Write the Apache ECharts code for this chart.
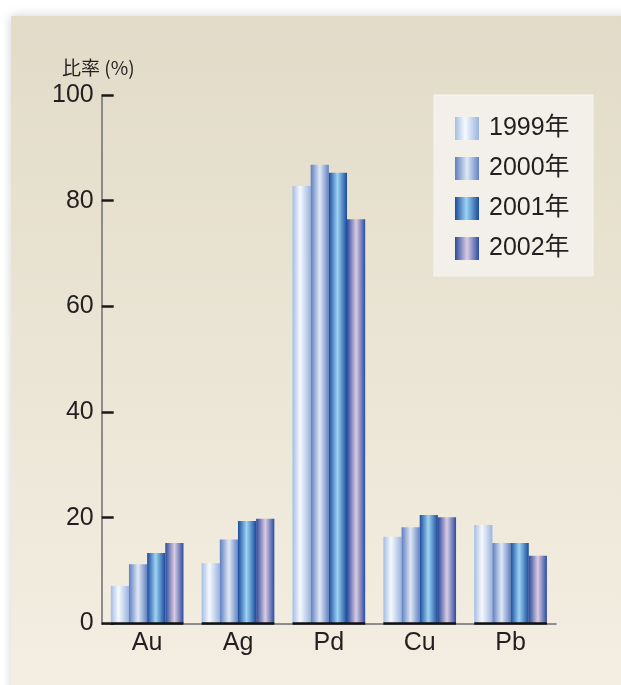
<!DOCTYPE html>
<html>
<head>
<meta charset="utf-8">
<style>
  html, body { margin: 0; padding: 0; background: #ffffff; }
  #chart { width: 621px; height: 685px; }
</style>
<script src="https://cdn.jsdelivr.net/npm/echarts@6/dist/echarts.min.js"></script>
</head>
<body>
<div id="chart"></div>
<script>
// Metals and yearly ratios (%)
const categories = ['Au', 'Ag', 'Pd', 'Cu', 'Pb'];
const years = ['1999年', '2000年', '2001年', '2002年'];
const values1999 = [7.1, 11.4, 82.8, 16.4, 18.6];
const values2000 = [11.2, 15.9, 86.8, 18.2, 15.2];
const values2001 = [13.3, 19.4, 85.3, 20.5, 15.2];
const values2002 = [15.2, 19.8, 76.5, 20.1, 12.8];
const yTicks = [0, 20, 40, 60, 80, 100];

const FONT = "'Liberation Sans', Arial, 'Noto Sans CJK JP', sans-serif";

// Horizontal "metallic" gradients for each year
function sheen(edgeL, mid, edgeR, midPos) {
  return {
    type: 'linear', x: 0, y: 0, x2: 1, y2: 0,
    colorStops: [
      { offset: 0, color: edgeL },
      { offset: midPos, color: mid },
      { offset: 1, color: edgeR }
    ]
  };
}
const yearColors = [
  sheen('#a3bde4', '#f7f9fd', '#98b4df', 0.42),
  sheen('#5f7ec1', '#dfe8f4', '#6382c4', 0.5),
  sheen('#1b4b9c', '#9dd3f3', '#184a9b', 0.47),
  sheen('#2b4a9b', '#dccbe2', '#2a4ca2', 0.5)
];
const seriesValues = [values1999, values2000, values2001, values2002];
const CAT_GAP = 0.2;

const barSeries = years.map((name, i) => ({
  name: name,
  type: 'bar',
  data: seriesValues[i],
  barGap: '0%',
  barCategoryGap: (CAT_GAP * 100) + '%',
  itemStyle: { color: yearColors[i] },
  z: 2
}));

// Dark base line under each bar group
const baseSeries = {
  type: 'custom',
  silent: true,
  z: 5,
  data: categories.map((c, i) => [i, 0]),
  renderItem: function (params, api) {
    const p = api.coord([api.value(0), 0]);
    const band = api.size([1, 0])[0];
    const half = band * (1 - CAT_GAP) / 2;
    return {
      type: 'line',
      shape: { x1: p[0] - half, y1: p[1], x2: p[0] + half, y2: p[1] },
      style: { stroke: '#111111', lineWidth: 2.5 }
    };
  }
};

const chart = echarts.init(document.getElementById('chart'), null, { renderer: 'canvas' });
chart.setOption({
  backgroundColor: '#ffffff',
  animation: false,
  textStyle: { fontFamily: FONT },
  graphic: [
    {
      type: 'rect',
      z: -10,
      shape: { x: 11, y: 16, width: 640, height: 700 },
      style: {
        fill: {
          type: 'linear', x: 0, y: 0, x2: 0, y2: 1,
          colorStops: [
            { offset: 0, color: '#e2dbc8' },
            { offset: 1, color: '#f4efe3' }
          ]
        },
        shadowBlur: 10,
        shadowColor: 'rgba(0,0,0,0.18)'
      }
    },
    {
      type: 'rect',
      z: -5,
      shape: { x: 434, y: 95, width: 159, height: 181 },
      style: { fill: '#f3f0e9', stroke: '#f6f4ef', lineWidth: 1 }
    },
    {
      type: 'text',
      left: 62,
      top: 58,
      style: {
        text: '比率 (%)',
        font: "19px 'Noto Sans CJK JP', sans-serif",
        fill: '#231f20'
      }
    }
  ],
  legend: {
    orient: 'vertical',
    left: 455,
    top: 116,
    padding: 0,
    itemWidth: 24,
    itemHeight: 23,
    itemGap: 15,
    icon: 'rect',
    data: years,
    textStyle: {
      fontFamily: FONT,
      fontSize: 25,
      color: '#231f20',
      lineHeight: 23,
      padding: [0, 0, 0, 5]
    }
  },
  grid: { left: 101.7, right: 65, top: 95, bottom: 61.6 },
  xAxis: {
    type: 'category',
    data: categories,
    boundaryGap: true,
    axisLine: { lineStyle: { color: '#6e6e6e', width: 1.5 } },
    axisTick: {
      inside: true,
      length: 13,
      lineStyle: { color: '#1a1a1a', width: 2.5 }
    },
    axisLabel: {
      margin: 7,
      fontSize: 25,
      color: '#231f20',
      fontFamily: FONT
    }
  },
  yAxis: {
    type: 'value',
    min: yTicks[0],
    max: yTicks[yTicks.length - 1],
    interval: 20,
    splitLine: { show: false },
    axisLine: { show: true, lineStyle: { color: '#6e6e6e', width: 1.5 } },
    axisTick: {
      show: true,
      inside: true,
      length: 12,
      lineStyle: { color: '#1a1a1a', width: 2.5 }
    },
    axisLabel: {
      margin: 8,
      fontSize: 25,
      color: '#231f20',
      fontFamily: FONT,
      padding: [3, 0, 0, 0]
    }
  },
  series: barSeries.concat([baseSeries])
});
</script>
</body>
</html>
